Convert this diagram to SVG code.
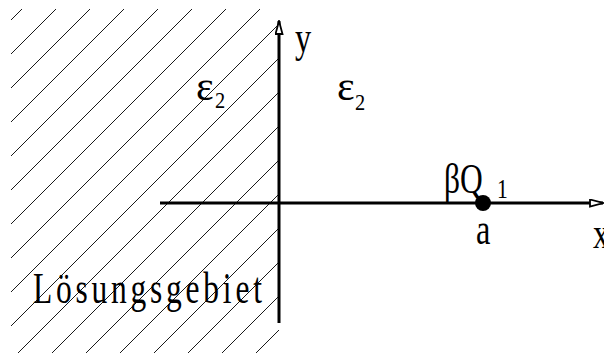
<svg xmlns="http://www.w3.org/2000/svg" width="604" height="353" viewBox="0 0 604 353">
<style>
.t{font-family:"Liberation Serif","Times New Roman",serif;fill:#000}
.axis{stroke:#000;stroke-width:3;fill:none}
.hatch{stroke:#000;stroke-width:0.9;fill:none}
</style>
<defs>
<clipPath id="hc"><rect x="11" y="9" width="268" height="344"/></clipPath>
<marker id="arr" viewBox="0 0 15 9" refX="14" refY="4.5" markerWidth="15" markerHeight="9" markerUnits="userSpaceOnUse" orient="auto">
<path d="M1,1 L14,4.5 L1,8 Z" fill="#fff" stroke="#000" stroke-width="1.8" stroke-linejoin="miter"/>
</marker>
</defs>
<rect width="604" height="353" fill="#fff"/>
<g id="region" clip-path="url(#hc)">
<path class="hatch" d="M-329,360L31,0M-295,360L65,0M-261,360L99,0M-227,360L133,0M-193,360L167,0M-159,360L201,0M-125,360L235,0M-91,360L269,0M-57,360L303,0M-23,360L337,0M11,360L371,0M45,360L405,0M79,360L439,0M113,360L473,0M147,360L507,0M181,360L541,0M215,360L575,0M249,360L609,0M283,360L643,0"/>
</g>
<g id="connectors">
<line class="axis" x1="279" y1="323" x2="279" y2="21" marker-end="url(#arr)"/>
<line class="axis" x1="160" y1="203" x2="603" y2="203" marker-end="url(#arr)"/>
</g>
<g id="charge">
<circle cx="483" cy="203" r="8" fill="#000"/>
</g>
<g id="labels">
<text class="t" font-size="45" transform="translate(295,52) scale(0.72,1)">y</text>
<text class="t" font-size="42" transform="translate(196,100)">ε</text>
<text class="t" font-size="24" transform="translate(215,108) scale(0.85,1)">2</text>
<text class="t" font-size="42" transform="translate(337,100)">ε</text>
<text class="t" font-size="24" transform="translate(355,110) scale(0.85,1)">2</text>
<text class="t" font-size="42" transform="translate(444,193) scale(0.75,1)">βQ</text>
<text class="t" font-size="27" transform="translate(497,198) scale(0.8,1)">1</text>
<text class="t" font-size="45" transform="translate(476,244) scale(0.72,1)">a</text>
<text class="t" font-size="45" transform="translate(593,248) scale(0.72,1)">x</text>
<text class="t" font-size="45" transform="translate(33,303) scale(0.7,1)" textLength="327" lengthAdjust="spacing">Lösungsgebiet</text>
</g>
</svg>
